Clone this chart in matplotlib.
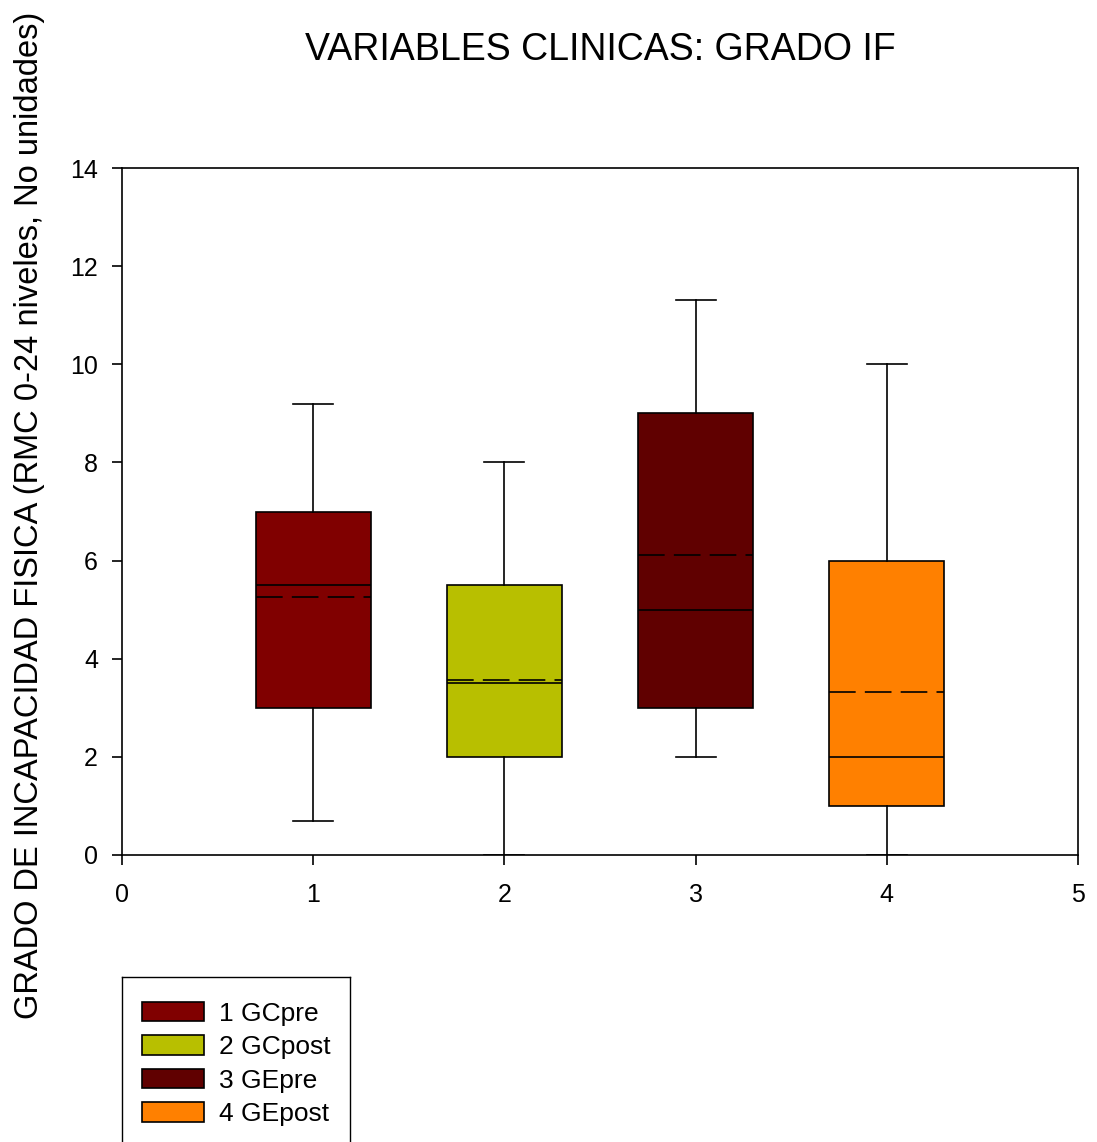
import matplotlib
matplotlib.use("Agg")
import matplotlib.pyplot as plt
from matplotlib.patches import Patch
from matplotlib.lines import Line2D

plt.rcParams['font.family'] = ['Liberation Sans', 'DejaVu Sans']

labels = ["1 GCpre", "2 GCpost", "3 GEpre", "4 GEpost"]
positions = [1, 2, 3, 4]
whislo = [0.7, 0.0, 2.0, 0.0]
q1 = [3.0, 2.0, 3.0, 1.0]
med = [5.5, 3.5, 5.0, 2.0]
q3 = [7.0, 5.5, 9.0, 6.0]
whishi = [9.2, 8.0, 11.3, 10.0]
means = [5.25, 3.57, 6.12, 3.32]
colors = ["#800000", "#B8BF00", "#600000", "#FF8000"]

fig = plt.figure(figsize=(10.97, 11.42), dpi=100)
ax = fig.add_axes([122/1097, 1-855/1142, (1078-122)/1097, (855-168)/1142])

stats = []
for i in range(len(labels)):
    stats.append(dict(whislo=whislo[i], q1=q1[i], med=med[i], q3=q3[i],
                      whishi=whishi[i], mean=means[i], fliers=[], label=labels[i]))

bp = ax.bxp(stats, positions=positions, widths=0.6, patch_artist=True,
            showmeans=True, meanline=True, showfliers=False, manage_ticks=False,
            boxprops=dict(edgecolor='black', linewidth=1.2),
            medianprops=dict(color='black', linewidth=1.2),
            meanprops=dict(color='black', linewidth=1.2, linestyle=(0, (16, 5.5))),
            whiskerprops=dict(color='black', linewidth=1.2),
            capprops=dict(color='black', linewidth=1.2),
            capwidths=0.21)
for patch, c in zip(bp['boxes'], colors):
    patch.set_facecolor(c)

ax.set_xlim(0, 5)
ax.set_ylim(0, 14)
ax.set_xticks(range(0, 6))
ax.set_yticks(range(0, 15, 2))
ax.tick_params(direction='out', length=7.2, width=1.2, labelsize=18)
ax.tick_params(axis='x', pad=13)
ax.tick_params(axis='y', pad=10)
for s in ax.spines.values():
    s.set_linewidth(1.2)

fig.text(600/1097, 1-50/1142, "VARIABLES CLINICAS: GRADO IF", ha='center', va='center', fontsize=27)
fig.text(30/1097, 1-515/1142, "GRADO DE INCAPACIDAD FISICA (RMC 0-24 niveles, No unidades)",
         ha='center', va='center', rotation=90, fontsize=23.5)

# legend
handles = [Patch(facecolor=c, edgecolor='black', linewidth=1.2) for c in colors]
leg = fig.legend(handles, labels, loc='upper left',
                 bbox_to_anchor=(118/1097, 1-978/1142), frameon=False,
                 fontsize=19, handlelength=2.35, handleheight=0.76,
                 labelspacing=0.36, handletextpad=0.57)
l0, r0, t0 = 122/1097, 350/1097, 1-977/1142
for xs, ys in [((l0, l0), (0, t0)), ((l0, r0), (t0, t0)), ((r0, r0), (t0, 0))]:
    fig.add_artist(Line2D(xs, ys, transform=fig.transFigure, color='black', linewidth=1.0))

fig.savefig("out.png", dpi=100)
